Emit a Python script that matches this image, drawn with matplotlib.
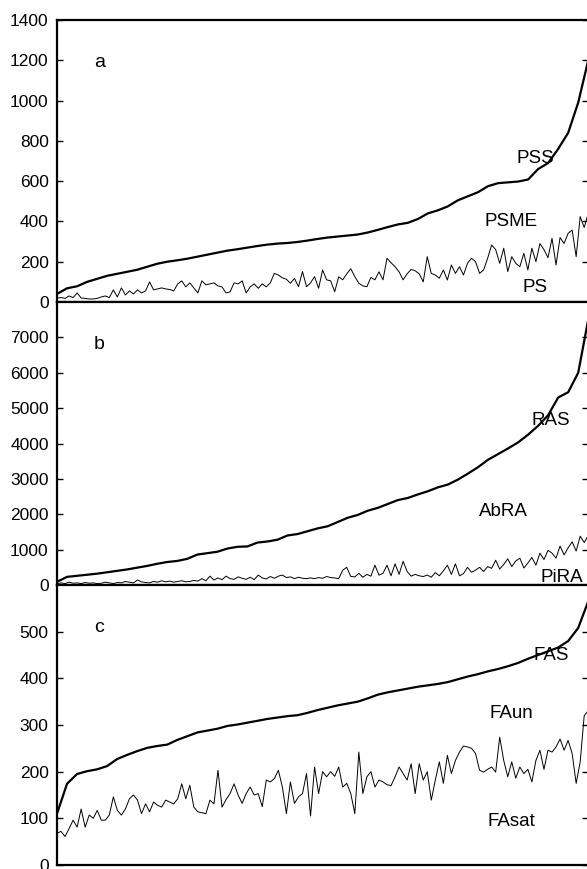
import numpy as np
import matplotlib.pyplot as plt

plt.rcParams['font.family'] = ['Liberation Sans', 'DejaVu Sans']

# panel a: PSS (total, sorted) and PS
pss = [40, 68, 78, 100, 115, 130, 140, 150, 160, 175, 190, 200, 207, 215, 225, 235, 245, 255,
       262, 270, 278, 285, 290, 293, 298, 305, 313, 320, 325, 330, 335, 345, 358, 372, 385, 393,
       412, 440, 455, 475, 505, 525, 545, 575, 590, 594, 598, 608, 660, 690, 760, 840, 990, 1200]
ps = [20, 22, 18, 30, 22, 45, 20, 18, 15, 15, 18, 25, 30, 22, 60, 25, 70, 35, 55, 40, 60, 45,
      55, 100, 60, 65, 70, 65, 62, 55, 90, 105, 75, 95, 70, 45, 105, 85, 90, 95, 80, 75, 45, 50,
      95, 90,
      105, 45, 75, 90, 68, 90, 75, 95, 142, 134, 120, 113, 93, 117, 76, 151, 76, 95, 126, 68,
      159, 110, 105, 51, 125, 110, 140, 165, 126, 93, 80, 76, 122, 110, 150, 110, 217, 195, 175,
      150, 110, 140, 162, 155, 140,
      100, 225, 142, 134, 118, 159, 109, 184, 142, 175, 134, 192, 217, 200, 142, 159, 217, 283,
      260, 192, 267, 151, 225, 192, 175, 242, 159, 267, 200, 290, 260, 220, 316, 184, 320, 291,
      341, 357, 225, 424, 370, 440]

# panel b: RAS (total, sorted) and PiRA
ras = [90, 230, 260, 290, 320, 360, 400, 440, 490, 540, 600, 650, 680, 740, 860, 900, 940, 1030,
       1080, 1090, 1200, 1230, 1280, 1400, 1440, 1520, 1600, 1660, 1780, 1900, 1980, 2100, 2180,
       2290, 2400, 2460, 2560, 2650, 2760, 2840, 2980, 3150, 3330, 3540, 3700, 3860, 4030, 4250,
       4500, 4800, 5300, 5450, 6000, 7500]
pira = [30, 60, 40, 80, 50, 60, 40, 70, 50, 60, 40, 50, 80, 60, 40, 70, 60, 100, 80, 60, 140, 90,
        70, 60, 100, 80, 120, 90, 110, 80, 100, 120, 90, 100, 130, 110, 180, 120, 250, 140, 200,
        150, 250, 180, 160, 230,
        190, 160, 220, 150, 280, 200, 170, 240, 190, 250, 280, 210, 230, 180, 220, 190, 180, 200,
        180, 210, 190, 240, 210, 200, 180, 420, 500, 240, 230, 330, 220, 300, 250, 560, 280, 330,
        560, 260, 600, 300, 670, 380, 250, 300, 260,
        240, 280, 220, 350, 260, 400, 560, 300, 600, 260, 320, 500, 360, 420, 500, 380, 520, 470,
        700, 450, 580, 740, 520, 680, 760, 480, 620, 780, 560, 900, 720, 980, 900, 760, 1100, 850,
        1050, 1220, 960, 1380, 1200, 1400]

# panel c: FAS (total, sorted) and FAsat
fas = [110, 174, 195, 201, 205, 212, 227, 236, 244, 251, 255, 258, 268, 276, 284, 288, 292, 298,
       301, 305, 309, 313, 316, 319, 321, 326, 332, 337, 342, 346, 350, 357, 365, 370, 374, 378,
       382, 385, 388, 392, 398, 404, 409, 415, 420, 426, 433, 442, 450, 458, 466, 480, 508, 565]
fasat = [68, 72, 61, 78, 96, 81, 120, 81, 107, 100, 117, 96, 96, 107, 146, 117, 107, 120, 142,
         150, 139, 110, 131, 114, 135, 128, 124, 139, 135, 131, 142, 174, 142, 171, 124, 114, 112,
         110, 139, 131, 203, 124, 140, 153, 174, 150,
         132, 153, 167, 150, 153, 125, 182, 178, 185, 203, 167, 110, 178, 132, 146, 153, 196, 105,
         210, 153, 200, 189, 200, 190, 210, 167, 175, 153, 110, 242, 153, 189, 200, 167, 182, 178,
         172, 170, 189, 210, 196, 182, 217, 153, 217,
         182, 200, 139, 182, 221, 175, 235, 196, 224, 242, 255, 253, 250, 239, 203, 199, 205, 210,
         199, 274, 224, 189, 221, 186, 210, 196, 205, 178, 224, 246, 205, 246, 242, 253, 270, 246,
         267, 239, 175, 221, 320, 331]

panels = [
    ('a', pss, ps, 1400, np.arange(0, 1401, 200),
     [('PSS', 0.90, 0.51), ('PSME', 0.855, 0.287), ('PS', 0.90, 0.053)]),
    ('b', ras, pira, 8000, np.arange(0, 7001, 1000),
     [('RAS', 0.93, 0.583), ('AbRA', 0.84, 0.258), ('PiRA', 0.95, 0.025)]),
    ('c', fas, fasat, 600, np.arange(0, 501, 100),
     [('FAS', 0.93, 0.75), ('FAun', 0.855, 0.54), ('FAsat', 0.855, 0.154)]),
]

fig = plt.figure(figsize=(5.87, 8.69), dpi=100)
tops = [20, 302, 585]
bots = [302, 585, 865]
H = 869.0

for i, (letter, tot, part, ymax, ticks, labels) in enumerate(panels):
    ax = fig.add_axes([57 / 587, 1 - bots[i] / H, 0.905, (bots[i] - tops[i]) / H])
    ax.plot(np.linspace(0, 1, len(tot)), tot, color='black', lw=1.6)
    ax.plot(np.linspace(0, 1, len(part)), part, color='black', lw=0.7)
    ax.set_xlim(0, 1)
    ax.set_ylim(0, ymax)
    ax.set_yticks(ticks)
    ax.set_xticks([])
    ax.tick_params(axis='y', direction='in', right=True, length=4, width=1,
                   labelsize=12.5, pad=6)
    for s in ax.spines.values():
        s.set_linewidth(1.6)
    ax.text(0.07, 0.85, letter, transform=ax.transAxes, fontsize=14, va='center')
    for txt, xf, yf in labels:
        ax.text(xf, yf, txt, transform=ax.transAxes, fontsize=13.5,
                ha='center', va='center')

fig.savefig('out.png', dpi=100)
